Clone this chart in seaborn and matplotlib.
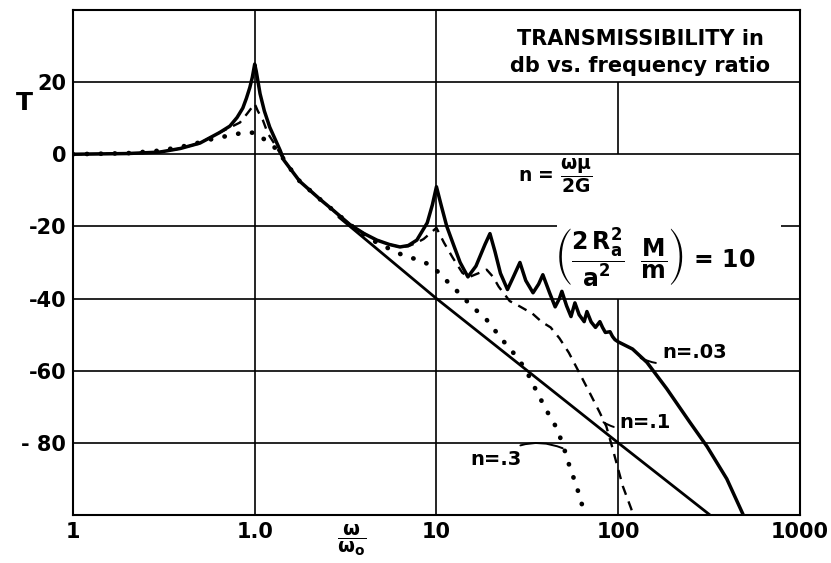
import numpy as np
import pandas as pd
import matplotlib
matplotlib.use("Agg")
import matplotlib.pyplot as plt
import seaborn as sns

# frequency ratio w/w0 and transmissibility T in db
x_n003 = [0.1, 0.2, 0.3, 0.39, 0.5, 0.64, 0.73, 0.8, 0.86, 0.9, 0.94, 0.97, 1.0,
          1.02, 1.07, 1.13, 1.21, 1.3, 1.38, 1.45, 1.77, 2.29, 2.7, 3.34, 4.0, 4.7,
          5.5, 6.3, 7.0, 7.8, 8.9, 9.5, 10, 10.6, 11.4, 12.5, 13.5, 14.9, 16.5,
          18.5, 19.7, 21, 22.5, 24.6, 26.5, 28.8, 31, 34, 36.5, 38.5, 42, 45, 47.5,
          49, 52, 55, 57.8, 61, 65, 67.3, 71, 75, 79.3, 82, 85, 90.2, 93, 96, 100,
          120, 144, 185, 248, 308, 396, 485, 520]
t_n003 = [0, 0.2, 0.6, 1.6, 3.1, 6.0, 7.8, 10.2, 12.8, 15.5, 18.5, 21.3, 25,
          23, 16.8, 12, 7.5, 4, 1.1, -1.7, -7.5, -12.5, -15.5, -19.5, -22, -23.8,
          -25, -25.7, -25.3, -23.8, -19, -14, -9, -14, -20, -25.5, -30, -34, -31,
          -25, -22, -27, -33, -37.5, -34, -30, -35, -38.4, -36, -33.4, -38.5, -42.3, -40,
          -38, -42, -45, -41.2, -44.5, -46.4, -43.6, -46.5, -48, -46.4, -48, -49.4, -49.2, -50.5, -51.4, -52,
          -54, -57.7, -65, -74.3, -81, -90, -99.7, -104]

x_n01 = [0.1, 0.2, 0.3, 0.39, 0.5, 0.64, 0.73, 0.83, 0.91, 1.0, 1.04, 1.11, 1.18,
         1.3, 1.45, 1.77, 2.29, 2.7, 3.34, 4.0, 4.7, 5.5, 6.3, 7.0, 7.8, 8.5, 9.3,
         10, 11, 12.3, 13.9, 15.2, 17, 18.9, 20.5, 22, 25.3, 28.8, 33.8, 38, 42.5,
         47.5, 53.5, 61, 69.5, 79, 86, 92.5, 99, 106, 118, 124]
t_n01 = [0, 0.2, 0.6, 1.6, 3.1, 6.0, 7.4, 8.8, 11.3, 14, 12, 9.4, 5.8,
         2.5, -1.7, -7.5, -12.5, -15.5, -19.5, -22, -23.8, -25, -25.7, -25.5, -24.5, -23.5, -21.8,
         -20.4, -24.5, -28.7, -32.9, -34, -33, -32, -34, -36.7, -40.7, -42.2, -44.2, -46.5, -48,
         -51, -55, -60.5, -66, -71.5, -75.4, -81, -86.5, -92, -98.3, -102]

x_n03 = [0.1, 0.2, 0.3, 0.39, 0.5, 0.6, 0.73, 0.83, 0.92, 1.04, 1.14, 1.25, 1.38,
         1.45, 1.77, 2.29, 2.7, 3.34, 4.0, 4.7, 5.35, 6.8, 8.1, 9.6, 10.8, 12.3,
         13.9, 15.8, 18.9, 23, 27.5, 31, 35, 40, 46, 50, 54, 59, 65, 68]
t_n03 = [0, 0.3, 1.0, 2.0, 3.3, 4.4, 5.2, 5.8, 6.1, 5.8, 3.9, 2.4, 0.6,
         -1.7, -7.5, -12.5, -15.5, -19.5, -22.3, -24.5, -25.9, -28.4, -29.3, -31.2, -34, -36.7,
         -39.5, -42.3, -45.9, -51.4, -56, -59.7, -65, -70.7, -76, -81, -86.5, -92, -99.2, -103]

x_rigid = [2.9, 10, 100, 320]
t_rigid = [-17.4, -40, -80, -100]

x_ticks = [0.1, 1, 10, 100, 1000]
x_ticklabels = ["1", "1.0", "10", "100", "1000"]
y_ticks = [-80, -60, -40, -20, 0, 20]
y_ticklabels = ["- 80", "-60", "-40", "-20", "0", "20"]

sns.set_style("white")
plt.rcParams["font.family"] = ["DejaVu Sans"]
plt.rcParams["mathtext.fontset"] = "dejavusans"
plt.rcParams["mathtext.default"] = "bf"
for key in ["text.color", "axes.labelcolor", "xtick.color", "ytick.color"]:
    plt.rcParams[key] = "black"

fig = plt.figure(figsize=(8.31, 5.63), dpi=100)
ax = fig.add_axes([0.0878, 0.0853, 0.8748, 0.897])
ax.set_xscale("log")
ax.set_xlim(0.1, 1000)
ax.set_ylim(-100, 40)

# grid, with gaps where the lettering sits
grid_kw = dict(color="black", lw=1.2, zorder=1)
ax.hlines([20, 0, -40, -60, -80], 0.1, 1000, **grid_kw)
ax.hlines([-20, -20], [0.1, 790], [46, 1000], **grid_kw)
ax.vlines([1, 10], -100, 40, **grid_kw)
ax.vlines([100, 100], [-100, 0], [-40, 20], **grid_kw)

df003 = pd.DataFrame({"w": x_n003, "T": t_n003})
df01 = pd.DataFrame({"w": x_n01, "T": t_n01})
df03 = pd.DataFrame({"w": x_n03, "T": t_n03})
dfr = pd.DataFrame({"w": x_rigid, "T": t_rigid})

sns.lineplot(data=dfr, x="w", y="T", sort=False, estimator=None, color="black",
             lw=2.0, ax=ax, zorder=3)
sns.lineplot(data=df03, x="w", y="T", sort=False, estimator=None, color="black",
             lw=3.4, linestyle=(0, (0.05, 2.9)), dash_capstyle="round", ax=ax, zorder=3)
sns.lineplot(data=df01, x="w", y="T", sort=False, estimator=None, color="black",
             lw=1.7, linestyle=(0, (4, 3)), ax=ax, zorder=3)
sns.lineplot(data=df003, x="w", y="T", sort=False, estimator=None, color="black",
             lw=2.5, ax=ax, zorder=4)

ax.set_xticks(x_ticks)
ax.set_xticklabels(x_ticklabels)
ax.minorticks_off()
ax.set_yticks(y_ticks)
ax.set_yticklabels(y_ticklabels)
ax.tick_params(length=0, labelsize=15, pad=5)
for lab in ax.get_xticklabels() + ax.get_yticklabels():
    lab.set_fontweight("bold")
ax.set_xlabel("")
ax.set_ylabel("")
for sp in ax.spines.values():
    sp.set_color("black")
    sp.set_linewidth(1.5)

# curve labels with their little squiggly leaders
lab_kw = dict(fontsize=14, fontweight="bold", va="center")
leader = dict(arrowstyle="-", lw=1.4, color="black", connectionstyle="arc3,rad=-0.3",
              shrinkA=2, shrinkB=0)
ax.annotate("n=.03", xy=(133, -56.5), xytext=(174, -55), ha="left",
            arrowprops=leader, **lab_kw)
ax.annotate("n=.1", xy=(83, -74.3), xytext=(102, -74.3), ha="left",
            arrowprops=leader, **lab_kw)
ax.annotate("n=.3", xy=(49.5, -81.5), xytext=(29.5, -84.5), ha="right",
            arrowprops=leader, **lab_kw)

ax.text(132, 28.2, "TRANSMISSIBILITY in\ndb vs. frequency ratio", ha="center",
        va="center", fontsize=15, fontweight="bold", linespacing=1.45, zorder=5)
ax.text(28, -6, r"n = $\dfrac{\omega\mu}{2G}$", ha="left", va="center",
        fontsize=13.5, fontweight="bold", zorder=5)
ax.text(160, -28.5, r"$\left(\dfrac{2\,R_a^2}{a^2}\ \ \dfrac{M}{m}\right)$ = 10",
        ha="center", va="center", fontsize=17, fontweight="bold", zorder=5)

fig.text(24 / 831, 1 - 103 / 563, "T", fontsize=18, fontweight="bold",
         ha="center", va="center")
fig.text(352 / 831, 1 - 540 / 563, r"$\dfrac{\omega}{\omega_o}$", fontsize=14,
         ha="center", va="center")

fig.savefig("out.png", dpi=100)
